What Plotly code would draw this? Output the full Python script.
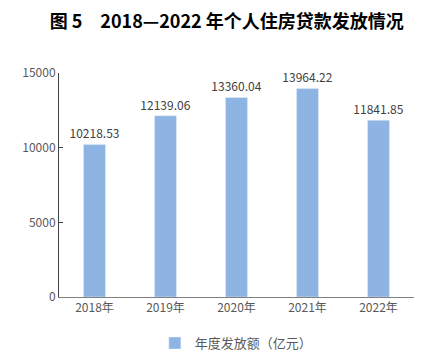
import plotly.graph_objects as go

categories = ["2018年", "2019年", "2020年", "2021年", "2022年"]
values = [10218.53, 12139.06, 13360.04, 13964.22, 11841.85]
value_labels = ["10218.53", "12139.06", "13360.04", "13964.22", "11841.85"]
series_name = "年度发放额（亿元）"
title = "图 5　2018—2022 年个人住房贷款发放情况"

font_cjk = "Noto Sans CJK SC, sans-serif"
gray = "#595959"

fig = go.Figure()
fig.add_trace(go.Bar(
    x=categories, y=values, name=series_name,
    marker=dict(color="#8DB4E2"), width=0.31,
    text=value_labels, textposition="outside", constraintext="none", textangle=0,
    textfont=dict(size=12, color="#404040", family=font_cjk),
    cliponaxis=False,
))
fig.update_layout(
    width=436, height=360,
    margin=dict(l=59, r=22, t=73, b=63, autoexpand=False),
    paper_bgcolor="white", plot_bgcolor="white",
    title=dict(text="<b>" + title + "</b>", x=0.52, xanchor="center",
               yref="container", y=0.94, yanchor="middle",
               font=dict(size=18, color="#000000", family=font_cjk)),
    showlegend=True,
    legend=dict(orientation="h", x=0.27, xanchor="left",
                yref="container", y=0.047, yanchor="middle",
                itemwidth=30, font=dict(size=13, color=gray, family=font_cjk)),
    font=dict(family=font_cjk, color=gray),
)
fig.update_xaxes(showline=True, linecolor="#808080", linewidth=1, ticks="",
                 tickfont=dict(size=12, color=gray, family=font_cjk))
fig.update_yaxes(range=[0, 15000], dtick=5000, tickformat="d", showgrid=False, zeroline=False,
                 showline=True, linecolor="#404040", linewidth=1,
                 ticks="inside", ticklen=4, tickcolor="#404040",
                 tickfont=dict(size=12, color=gray, family=font_cjk))
fig.write_html("out.html", config={"displayModeBar": False},
               post_script="document.body.style.margin='0';")
